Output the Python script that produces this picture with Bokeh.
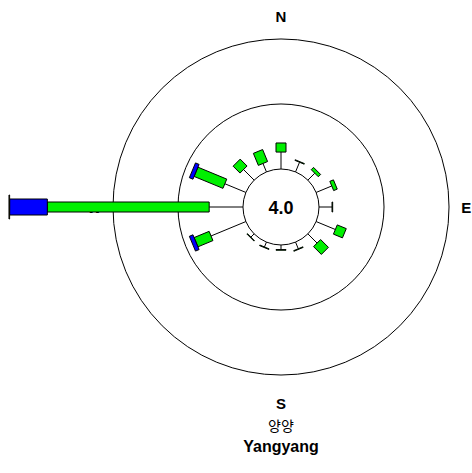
import numpy as np
from bokeh.plotting import figure
from bokeh.models import Range1d
from bokeh.core.properties import value
from bokeh.embed import file_html
from bokeh.resources import INLINE

# ---------------- data ----------------
directions = ["N", "NNE", "NE", "ENE", "E", "ESE", "SE", "SSE",
              "S", "SSW", "SW", "WSW", "W", "WNW", "NW", "NNW"]
dir_deg = [0.0, 22.5, 45.0, 67.5, 90.0, 112.5, 135.0, 157.5,
           180.0, 202.5, 225.0, 247.5, 270.0, 292.5, 315.0, 337.5]
# frequency (%) per speed class, drawn from the calm circle outward
class1 = [2.6, 1.6, 1.5, 2.6, 2.0, 3.2, 2.0, 1.1, 0.7, 0.8, 0.7, 5.8, 5.2, 3.5, 2.3, 1.4]   # thin line
class2 = [1.4, 0.1, 0.5, 0.6, 0.1, 1.5, 1.7, 0.1, 0.1, 0.1, 0.1, 2.5, 24.9, 4.8, 1.5, 2.0]  # green
class3 = [0.0, 0.0, 0.0, 0.0, 0.0, 0.0, 0.0, 0.0, 0.0, 0.0, 0.0, 0.6, 5.8, 0.6, 0.0, 0.0]   # blue
class4 = [0.0, 0.0, 0.0, 0.0, 0.0, 0.0, 0.0, 0.0, 0.0, 0.0, 0.0, 0.0, 0.1, 0.0, 0.0, 0.0]   # widest
calm = 4.0
rings = [10, 20]
compass_labels = ["N", "E", "S", "W"]
compass_deg = [0.0, 90.0, 180.0, 270.0]
station_kr = "양양"
station_en = "Yangyang"

# ---------------- style ----------------
W, H = 472, 470
CX, CY = 280.5, 206.5          # centre in figure pixels
S = 6.5                        # pixels per percent
CALM_R = 5.85                  # calm circle radius (in % units)
FONT = "Liberation Sans"
bar_px = [10, 16, 24]
bar_colors = ["#00F000", "#0000FF", "#FFFF00"]

p = figure(width=W, height=H, output_backend="svg", toolbar_location=None,
           x_axis_location=None, y_axis_location=None, min_border=0,
           x_range=Range1d(-CX / S, (W - CX) / S),
           y_range=Range1d(-(H - CY) / S, CY / S))
p.grid.visible = False
p.outline_line_color = None
p.background_fill_color = "white"

theta = np.radians(dir_deg)
sx, cy = np.sin(theta), np.cos(theta)

# rings
ring_r = [CALM_R + r for r in rings]
p.circle(x=[0] * len(ring_r), y=[0] * len(ring_r), radius=ring_r,
         fill_color=None, line_color="black", line_width=1)
p.circle(x=[0], y=[0], radius=CALM_R, fill_color=None, line_color="black", line_width=1)

# compass labels (drawn first; the W label is hidden under the west bar)
lab_r = [29.3, 28.5, 30.2, 28.7]
lt = np.radians(compass_deg)
p.text(x=list(np.array(lab_r) * np.sin(lt)), y=list(np.array(lab_r) * np.cos(lt)),
       text=compass_labels, text_font=value(FONT), text_font_style="bold",
       text_font_size="15px", text_align="center", text_baseline="middle",
       text_color="black")

# class 1: lines
r0 = np.full(len(directions), CALM_R)
r1 = r0 + np.array(class1)
p.segment(x0=r0 * sx, y0=r0 * cy, x1=r1 * sx, y1=r1 * cy, line_color="black", line_width=1)

# bar classes
base = r1.copy()
for vals, px, col in zip([class2, class3, class4], bar_px, bar_colors):
    v = np.array(vals)
    m = v > 0
    rc = base + v / 2
    p.rect(x=(rc * sx)[m], y=(rc * cy)[m], width=v[m], height=px, height_units="screen",
           angle=(np.pi / 2 - theta)[m], fill_color=col, line_color="black", line_width=1)
    base = base + v

# calm value
p.text(x=[0], y=[0], text=[f"{calm:.1f}"], text_font=value(FONT), text_font_style="bold",
       text_font_size="18px", text_align="center", text_baseline="middle")

# station names
p.text(x=[0], y=[-33.6], text=[station_kr], text_font=value("Noto Sans CJK KR"),
       text_font_size="14px", text_align="center", text_baseline="middle")
p.text(x=[0], y=[-36.9], text=[station_en], text_font=value(FONT), text_font_style="bold",
       text_font_size="16px", text_align="center", text_baseline="middle")

open("out.html", "w").write(file_html(p, INLINE))
